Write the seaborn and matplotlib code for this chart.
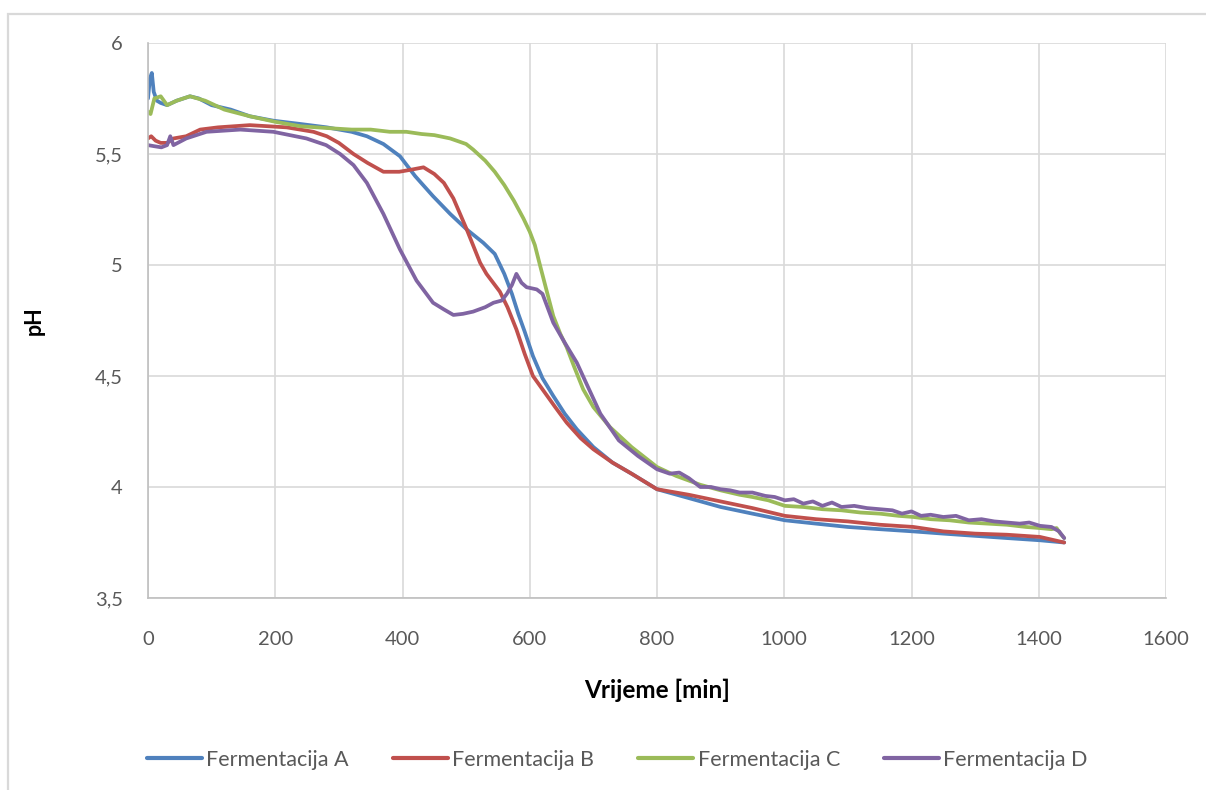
import pandas as pd
import matplotlib
matplotlib.use("Agg")
import matplotlib.pyplot as plt
from matplotlib.patches import Rectangle
from matplotlib.ticker import FuncFormatter, MultipleLocator
import seaborn as sns

# values (time in min, pH)
time_a = [0, 3, 6, 9, 14, 20, 30, 45, 66, 80, 100, 130, 160, 197, 240, 281, 320, 344, 370, 396,
          420, 448, 475, 501, 527, 545, 560, 572, 582, 592, 605, 620, 637, 655, 674, 700, 730, 760,
          800, 850, 900, 950, 1001, 1050, 1100, 1150, 1203, 1250, 1300, 1350, 1402, 1440]
ph_a = [5.75, 5.84, 5.865, 5.78, 5.74, 5.73, 5.72, 5.74, 5.76, 5.75, 5.72, 5.70, 5.67, 5.65, 5.635,
        5.62, 5.60, 5.58, 5.545, 5.49, 5.40, 5.31, 5.23, 5.16, 5.10, 5.05, 4.96, 4.87, 4.78, 4.70,
        4.59, 4.49, 4.41, 4.33, 4.26, 4.18, 4.11, 4.06, 3.99, 3.95, 3.91, 3.88, 3.85, 3.835, 3.82,
        3.81, 3.80, 3.79, 3.78, 3.77, 3.76, 3.75]

time_b = [0, 5, 12, 20, 30, 40, 60, 82, 110, 160, 218, 260, 281, 300, 323, 345, 370, 395, 415, 433,
          450, 465, 480, 501, 522, 532, 553, 565, 579, 592, 605, 620, 640, 658, 680, 700, 730, 760,
          800, 850, 900, 950, 1001, 1050, 1100, 1150, 1203, 1250, 1300, 1350, 1402, 1440]
ph_b = [5.57, 5.58, 5.56, 5.55, 5.55, 5.57, 5.58, 5.61, 5.62, 5.63, 5.62, 5.60, 5.58, 5.55, 5.50,
        5.46, 5.42, 5.42, 5.43, 5.44, 5.41, 5.37, 5.30, 5.16, 5.01, 4.96, 4.88, 4.81, 4.71, 4.60,
        4.50, 4.44, 4.36, 4.29, 4.22, 4.17, 4.11, 4.06, 3.99, 3.965, 3.935, 3.905, 3.87, 3.855,
        3.845, 3.83, 3.82, 3.80, 3.79, 3.785, 3.775, 3.75]

time_c = [0, 4, 10, 20, 30, 45, 66, 90, 120, 160, 200, 240, 281, 320, 350, 380, 406, 430, 450, 475,
          500, 511, 530, 545, 560, 575, 590, 600, 608, 616, 626, 637, 648, 658, 670, 684, 700, 726,
          760, 800, 830, 868, 900, 930, 950, 975, 1001, 1030, 1060, 1090, 1120, 1150, 1180, 1203,
          1230, 1260, 1290, 1320, 1350, 1380, 1402, 1420, 1428, 1434, 1440]
ph_c = [5.69, 5.68, 5.75, 5.76, 5.72, 5.74, 5.76, 5.74, 5.70, 5.67, 5.645, 5.625, 5.617, 5.61, 5.61,
        5.60, 5.60, 5.59, 5.585, 5.57, 5.545, 5.52, 5.47, 5.42, 5.36, 5.29, 5.21, 5.15, 5.09, 5.00,
        4.89, 4.77, 4.69, 4.63, 4.54, 4.44, 4.36, 4.27, 4.18, 4.09, 4.05, 4.01, 3.985, 3.965,
        3.955, 3.94, 3.915, 3.91, 3.90, 3.895, 3.885, 3.88, 3.87, 3.865, 3.855, 3.85, 3.84, 3.835,
        3.83, 3.82, 3.815, 3.81, 3.815, 3.79, 3.77]

time_d = [0, 10, 21, 30, 35, 40, 60, 92, 145, 197, 249, 280, 302, 323, 344, 370, 396, 422, 448, 465,
          480, 495, 511, 530, 543, 556, 564, 572, 579, 587, 595, 611, 620, 637, 655, 674, 690, 711,
          740, 770, 800, 820, 835, 850, 868, 885, 900, 915, 930, 950, 970, 985, 1001, 1015, 1030,
          1045, 1060, 1075, 1090, 1110, 1130, 1150, 1170, 1185, 1200, 1215, 1230, 1250, 1270, 1290,
          1310, 1330, 1350, 1370, 1385, 1402, 1420, 1432, 1440]
ph_d = [5.54, 5.535, 5.53, 5.54, 5.58, 5.54, 5.57, 5.60, 5.61, 5.60, 5.57, 5.54, 5.50, 5.45, 5.37,
        5.23, 5.07, 4.93, 4.83, 4.80, 4.775, 4.78, 4.79, 4.81, 4.83, 4.84, 4.87, 4.91, 4.96, 4.92,
        4.90, 4.89, 4.87, 4.74, 4.65, 4.56, 4.46, 4.33, 4.21, 4.14, 4.08, 4.06, 4.065, 4.04, 4.00,
        4.00, 3.99, 3.985, 3.975, 3.975, 3.96, 3.955, 3.94, 3.945, 3.925, 3.935, 3.915, 3.93, 3.91,
        3.915, 3.905, 3.90, 3.895, 3.88, 3.89, 3.87, 3.875, 3.865, 3.87, 3.85, 3.855, 3.845, 3.84,
        3.835, 3.84, 3.825, 3.82, 3.80, 3.77]

series_names = ["Fermentacija A", "Fermentacija B", "Fermentacija C", "Fermentacija D"]
colors = ["#4F81BD", "#C0504D", "#9BBB59", "#8064A2"]

frames = []
for name, t, ph in zip(series_names, [time_a, time_b, time_c, time_d], [ph_a, ph_b, ph_c, ph_d]):
    frames.append(pd.DataFrame({"Vrijeme": t, "pH": ph, "serija": name}))
df = pd.concat(frames, ignore_index=True)

sns.set_theme(style="white")
plt.rcParams["font.family"] = ["Lato", "DejaVu Sans"]

fig = plt.figure(figsize=(12.06, 7.90), dpi=100)
ax = fig.add_axes([148 / 1206, 1 - 598 / 790, (1166 - 148) / 1206, (598 - 43) / 790])

sns.lineplot(data=df, x="Vrijeme", y="pH", hue="serija", palette=colors, linewidth=2.7,
             sort=False, estimator=None, ax=ax)

ax.set_xlim(0, 1600)
ax.set_ylim(3.5, 6)
ax.xaxis.set_major_locator(MultipleLocator(200))
ax.yaxis.set_major_locator(MultipleLocator(0.5))
ax.yaxis.set_major_formatter(FuncFormatter(lambda v, _: f"{v:g}".replace(".", ",")))
ax.grid(True, color="#D9D9D9", linewidth=1.2)
ax.set_axisbelow(True)
for side in ["top", "right"]:
    ax.spines[side].set_visible(False)
for side in ["left", "bottom"]:
    ax.spines[side].set_color("#BFBFBF")
    ax.spines[side].set_linewidth(1.2)
ax.tick_params(axis="both", length=0, labelsize=14.5, labelcolor="#595959")
ax.tick_params(axis="x", pad=24)
ax.tick_params(axis="y", pad=18)

ax.set_xlabel("Vrijeme [min]", fontsize=17.5, fontweight="bold", color="black", labelpad=22)
ax.set_ylabel("pH", fontsize=15.5, fontweight="bold", color="black", labelpad=36)

handles, labels = ax.get_legend_handles_labels()
ax.get_legend().remove()
leg = fig.legend(handles, labels, loc="center", bbox_to_anchor=(0.512, 1 - 760 / 790), ncol=4,
                 frameon=False, fontsize=15.5, handlelength=2.55, handletextpad=0.2,
                 columnspacing=2.05, labelcolor="#595959")
for line in leg.get_lines():
    line.set_linewidth(3)

# outer chart border
fig.add_artist(Rectangle((8 / 1206, -0.1), 1.2, 1 - 14 / 790 + 0.1, transform=fig.transFigure,
                         fill=False, edgecolor="#D9D9D9", linewidth=1.6))

fig.savefig("out.png", dpi=100)
